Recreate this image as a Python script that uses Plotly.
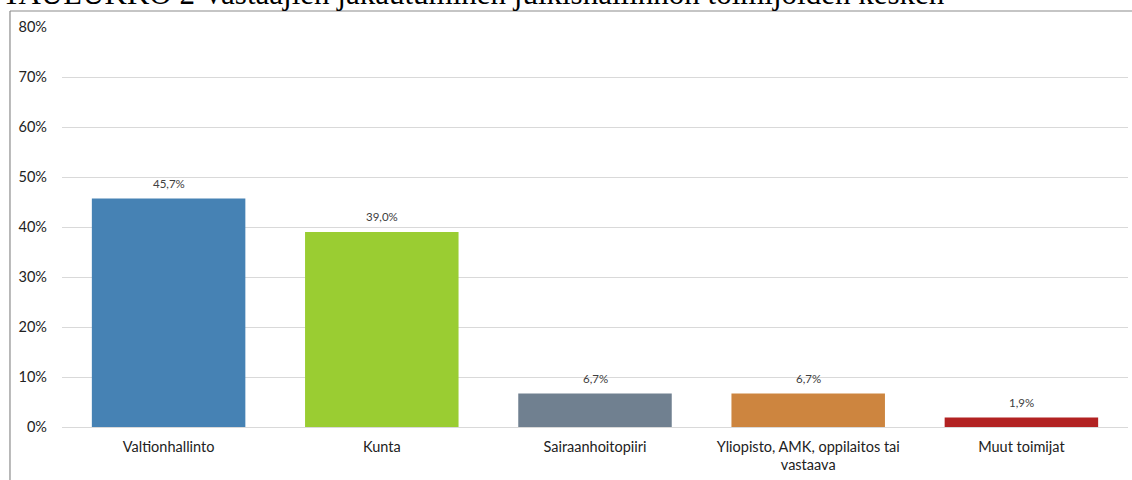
import plotly.graph_objects as go

categories = ["Valtionhallinto", "Kunta", "Sairaanhoitopiiri",
              "Yliopisto, AMK, oppilaitos tai<br>vastaava", "Muut toimijat"]
values = [45.7, 39.0, 6.7, 6.7, 1.9]
colors = ["#4682B4", "#9ACD32", "#708090", "#CD853F", "#B22222"]
labels = [f"{v:.1f}".replace(".", ",") + "%" for v in values]
y_ticks = [0, 10, 20, 30, 40, 50, 60, 70, 80]
y_ticklabels = [f"{t}%" for t in y_ticks]
title_text = "TAULUKKO 2 Vastaajien jakautuminen julkishallinnon toimijoiden kesken"

fig = go.Figure(go.Bar(
    x=categories, y=values, marker=dict(color=colors, line=dict(width=0)),
    width=0.72, hoverinfo="skip",
))

# data labels placed through the axes' own scales, a few pixels above each bar
for cat, val, lab in zip(categories, values, labels):
    fig.add_annotation(x=cat, y=val, text=lab, showarrow=False,
                       yanchor="bottom", yshift=7,
                       font=dict(size=11.5, color="#404040", family="Lato"))

fig.update_layout(
    width=1132, height=480,
    margin=dict(l=62, r=4, t=27, b=53),
    paper_bgcolor="white", plot_bgcolor="white",
    showlegend=False,
    font=dict(family="Lato", size=14.5, color="#222222"),
    xaxis=dict(showgrid=False, showline=False, ticks="", ticklabelstandoff=9,
               tickfont=dict(size=14.5)),
    yaxis=dict(range=[0, 80], tickvals=y_ticks, ticktext=y_ticklabels,
               showgrid=True, gridcolor="#d9d9d9", gridwidth=1,
               zeroline=True, zerolinecolor="#d9d9d9", zerolinewidth=1,
               showline=False, ticks="", ticklabelstandoff=14,
               tickfont=dict(size=14.5)),
    shapes=[
        dict(type="line", xref="paper", yref="paper", x0=-0.0488, x1=1.01,
             y0=1.04, y1=1.04, line=dict(color="#8c8c8c", width=1.2)),
        dict(type="line", xref="paper", yref="paper", x0=-0.0488, x1=-0.0488,
             y0=1.04, y1=-0.2, line=dict(color="#8c8c8c", width=1.2)),
    ],
)
fig.add_annotation(text=title_text, xref="paper", yref="paper",
                   x=-0.0582, y=1.083, xanchor="left", yanchor="middle",
                   showarrow=False,
                   font=dict(family="Liberation Serif", size=31, color="black"))

fig.write_html("out.html", config={"displayModeBar": False},
               post_script="document.body.style.margin='0';")
